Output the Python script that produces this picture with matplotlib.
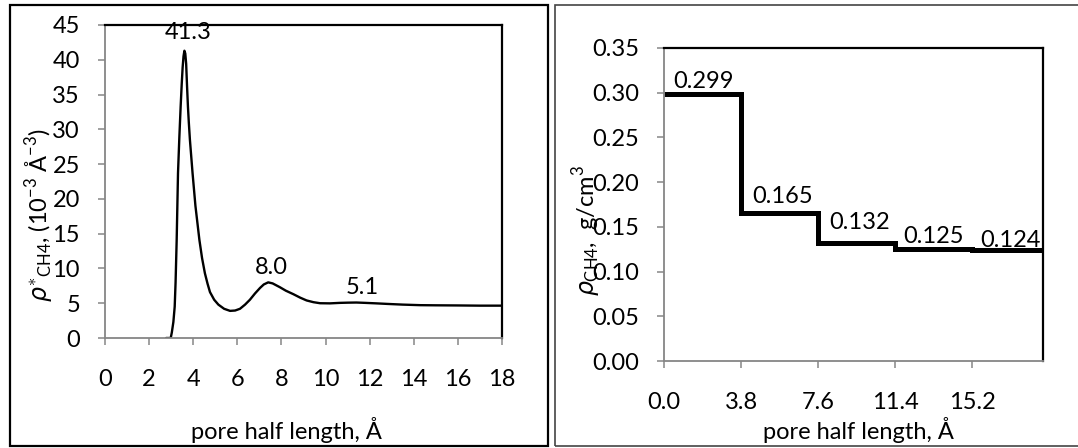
import matplotlib
matplotlib.use("Agg")
import matplotlib.pyplot as plt
from matplotlib.patches import Rectangle
from matplotlib.ticker import FormatStrFormatter

plt.rcParams['font.family'] = ['Lato', 'DejaVu Sans']
plt.rcParams['mathtext.fontset'] = 'custom'
plt.rcParams['mathtext.rm'] = 'Lato'
plt.rcParams['mathtext.it'] = 'DejaVu Sans:italic'
plt.rcParams['mathtext.bf'] = 'Lato:bold'

# Left panel: methane density profile across the pore
profile_x = [2.77, 2.98, 3.03, 3.1, 3.16, 3.2, 3.25, 3.31, 3.37, 3.43, 3.48, 3.52,
             3.56, 3.6, 3.64, 3.68, 3.72, 3.76, 3.8, 3.85, 3.97, 4.1, 4.28, 4.4,
             4.53, 4.65, 4.76, 4.95, 5.14, 5.4, 5.67, 5.9, 6.12, 6.35, 6.57, 6.8,
             7.03, 7.2, 7.4, 7.6, 7.93, 8.2, 8.54, 8.85, 9.14, 9.45, 9.75, 10.2,
             10.65, 11.0, 11.4, 11.8, 12.3, 12.8, 13.5, 14.3, 15.0, 16.0, 17.0, 18.0]
profile_y = [0.0, 0.0, 0.8, 2.3, 4.5, 8.0, 14.1, 23.7, 28.8, 33.3, 36.6, 38.9,
             40.5, 41.3, 40.9, 39.4, 36.2, 33.3, 31.0, 28.5, 23.7, 19.0, 14.1, 11.5,
             9.3, 7.8, 6.6, 5.5, 4.8, 4.2, 3.9, 3.95, 4.2, 4.8, 5.5, 6.4,
             7.2, 7.7, 8.0, 7.85, 7.3, 6.8, 6.3, 5.8, 5.4, 5.15, 5.0, 4.98,
             5.05, 5.08, 5.1, 5.05, 4.98, 4.9, 4.8, 4.72, 4.7, 4.68, 4.65, 4.65]
peak_x = [3.6, 7.4, 11.4]
peak_y = [41.3, 8.0, 5.1]
peak_text = ["41.3", "8.0", "5.1"]

# Right panel: layer-averaged density
layer_edges = [0.0, 3.8, 7.6, 11.4, 15.2, 18.7]
layer_density = [0.299, 0.165, 0.132, 0.125, 0.124]
layer_text = ["0.299", "0.165", "0.132", "0.125", "0.124"]
layer_ticks = [0.0, 3.8, 7.6, 11.4, 15.2]

W, H = 1078, 448
fig = plt.figure(figsize=(W / 100, H / 100), dpi=100)

FS = 17
AX_GRAY = '#868686'


def style_axes(ax):
    for side in ('left', 'bottom'):
        ax.spines[side].set_color(AX_GRAY)
        ax.spines[side].set_linewidth(1.3)
    for side in ('top', 'right'):
        ax.spines[side].set_color('black')
        ax.spines[side].set_linewidth(1.6)
    ax.tick_params(axis='both', direction='out', length=5, width=1.1,
                   color=AX_GRAY, labelsize=FS, labelcolor='black')
    ax.tick_params(axis='x', pad=17)
    ax.tick_params(axis='y', pad=13)


# Outer frames around each panel
fig.patches.append(Rectangle((10 / W, 2 / H), 538 / W, 441 / H,
                             transform=fig.transFigure, fill=False,
                             edgecolor='black', linewidth=1.6))
fig.patches.append(Rectangle((555 / W, 2 / H), 540 / W, 441 / H,
                             transform=fig.transFigure, fill=False,
                             edgecolor='#444444', linewidth=1.2))

# ---- left panel ----
ax1 = fig.add_axes([105 / W, (H - 338) / H, 397 / W, 313 / H])
ax1.plot(profile_x, profile_y, color='black', lw=1.7,
         solid_joinstyle='round', solid_capstyle='round')
ax1.set_xlim(0, 18)
ax1.set_ylim(0, 45)
ax1.set_xticks(range(0, 19, 2))
ax1.set_yticks(range(0, 46, 5))
style_axes(ax1)
label_shift = [(3, 13), (2, 11), (4, 11)]
for px, py, t, (dx, dy) in zip(peak_x, peak_y, peak_text, label_shift):
    ax1.annotate(t, (px, py), xytext=(dx, dy), textcoords='offset points',
                 ha='center', va='center', fontsize=FS, zorder=1)
fig.text(286 / W, (H - 430) / H, "pore half length, Å",
         ha='center', va='center', fontsize=FS)
fig.text(40 / W, 0.52,
         r"$\rho^{\ast}{}_{\mathrm{CH4}}$, (10$^{\mathrm{-3}}$ Å$^{\mathrm{-3}}$)",
         rotation=90, ha='center', va='center', fontsize=FS)

# ---- right panel ----
ax2 = fig.add_axes([664 / W, (H - 361) / H, 379 / W, 313 / H])
ax2.stairs(layer_density, layer_edges, color='black', lw=3.6, baseline=None)
ax2.set_xlim(layer_edges[0], layer_edges[-1])
ax2.set_ylim(0, 0.35)
ax2.set_xticks(layer_ticks)
ax2.xaxis.set_major_formatter(FormatStrFormatter('%.1f'))
ax2.set_yticks([i * 0.05 for i in range(8)])
ax2.yaxis.set_major_formatter(FormatStrFormatter('%.2f'))
style_axes(ax2)
step_shift = [(1, 9), (2, 12), (2, 15), (0, 9), (2, 7)]
for lo, hi, v, t, (dx, dy) in zip(layer_edges[:-1], layer_edges[1:],
                                  layer_density, layer_text, step_shift):
    ax2.annotate(t, ((lo + hi) / 2, v), xytext=(dx, dy), textcoords='offset points',
                 ha='center', va='center', fontsize=FS)
fig.text(858 / W, (H - 430) / H, "pore half length, Å",
         ha='center', va='center', fontsize=FS)
fig.text(587 / W, 0.485, r"$\rho_{\mathrm{CH4}}$,  g/cm$^{\mathrm{3}}$",
         rotation=90, ha='center', va='center', fontsize=FS)

fig.savefig("out.png", dpi=100)
